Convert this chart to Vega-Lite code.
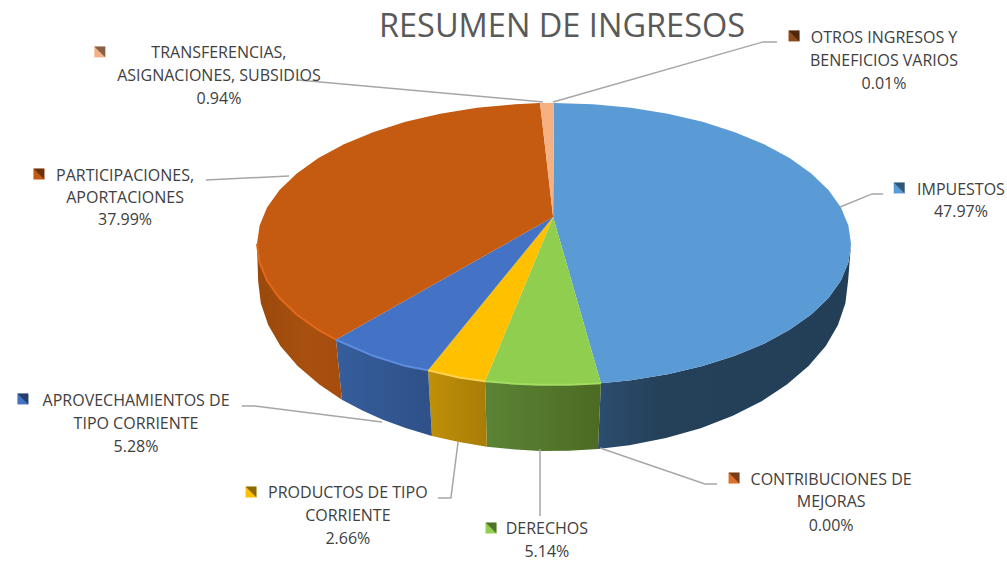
{"$schema":"https://vega.github.io/schema/vega-lite/v6.json","width":1007,"height":561,"padding":0,"autosize":{"type":"fit","contains":"padding"},"background":"white","view":{"stroke":null},
"datasets":{
"top":[
{"slice":"IMPUESTOS","i":0,"u":-0.3,"v":19.1},{"slice":"IMPUESTOS","i":1,"u":0,"v":100},{"slice":"IMPUESTOS","i":2,"u":13.1,"v":99.1},{"slice":"IMPUESTOS","i":3,"u":25.9,"v":96.6},{"slice":"IMPUESTOS","i":4,"u":38.3,"v":92.4},{"slice":"IMPUESTOS","i":5,"u":50,"v":86.6},{"slice":"IMPUESTOS","i":6,"u":60.9,"v":79.3},{"slice":"IMPUESTOS","i":7,"u":70.7,"v":70.7},{"slice":"IMPUESTOS","i":8,"u":79.3,"v":60.9},{"slice":"IMPUESTOS","i":9,"u":86.6,"v":50},{"slice":"IMPUESTOS","i":10,"u":92.4,"v":38.3},{"slice":"IMPUESTOS","i":11,"u":96.6,"v":25.9},{"slice":"IMPUESTOS","i":12,"u":99.1,"v":13.1},{"slice":"IMPUESTOS","i":13,"u":100,"v":0},{"slice":"IMPUESTOS","i":14,"u":99.1,"v":-13.1},{"slice":"IMPUESTOS","i":15,"u":96.6,"v":-25.9},{"slice":"IMPUESTOS","i":16,"u":92.4,"v":-38.3},{"slice":"IMPUESTOS","i":17,"u":86.6,"v":-50},{"slice":"IMPUESTOS","i":18,"u":79.3,"v":-60.9},{"slice":"IMPUESTOS","i":19,"u":70.7,"v":-70.7},{"slice":"IMPUESTOS","i":20,"u":60.9,"v":-79.3},{"slice":"IMPUESTOS","i":21,"u":50,"v":-86.6},{"slice":"IMPUESTOS","i":22,"u":38.3,"v":-92.4},{"slice":"IMPUESTOS","i":23,"u":25.9,"v":-96.6},{"slice":"IMPUESTOS","i":24,"u":15.8,"v":-98.7},
{"slice":"DERECHOS","i":0,"u":-0.3,"v":19.1},{"slice":"DERECHOS","i":1,"u":15.8,"v":-98.7},{"slice":"DERECHOS","i":2,"u":5,"v":-99.9},{"slice":"DERECHOS","i":3,"u":-5,"v":-99.9},{"slice":"DERECHOS","i":4,"u":-13.1,"v":-99.1},{"slice":"DERECHOS","i":5,"u":-23.2,"v":-97.3},
{"slice":"PRODUCTOS","i":0,"u":-0.3,"v":19.1},{"slice":"PRODUCTOS","i":1,"u":-23.2,"v":-97.3},{"slice":"PRODUCTOS","i":2,"u":-32,"v":-94.7},{"slice":"PRODUCTOS","i":3,"u":-42.4,"v":-89.5},
{"slice":"APROVECHAMIENTOS","i":0,"u":-0.3,"v":19.1},{"slice":"APROVECHAMIENTOS","i":1,"u":-42.4,"v":-89.5},{"slice":"APROVECHAMIENTOS","i":2,"u":-50,"v":-86.6},{"slice":"APROVECHAMIENTOS","i":3,"u":-60.9,"v":-79.3},{"slice":"APROVECHAMIENTOS","i":4,"u":-73.4,"v":-67.9},
{"slice":"PARTICIPACIONES","i":0,"u":-0.3,"v":19.1},{"slice":"PARTICIPACIONES","i":1,"u":-73.4,"v":-67.9},{"slice":"PARTICIPACIONES","i":2,"u":-79.3,"v":-60.9},{"slice":"PARTICIPACIONES","i":3,"u":-86.6,"v":-50},{"slice":"PARTICIPACIONES","i":4,"u":-92.4,"v":-38.3},{"slice":"PARTICIPACIONES","i":5,"u":-96.6,"v":-25.9},{"slice":"PARTICIPACIONES","i":6,"u":-99.1,"v":-13.1},{"slice":"PARTICIPACIONES","i":7,"u":-100,"v":0},{"slice":"PARTICIPACIONES","i":8,"u":-99.1,"v":13.1},{"slice":"PARTICIPACIONES","i":9,"u":-96.6,"v":25.9},{"slice":"PARTICIPACIONES","i":10,"u":-92.4,"v":38.3},{"slice":"PARTICIPACIONES","i":11,"u":-86.6,"v":50},{"slice":"PARTICIPACIONES","i":12,"u":-79.3,"v":60.9},{"slice":"PARTICIPACIONES","i":13,"u":-70.7,"v":70.7},{"slice":"PARTICIPACIONES","i":14,"u":-60.9,"v":79.3},{"slice":"PARTICIPACIONES","i":15,"u":-50,"v":86.6},{"slice":"PARTICIPACIONES","i":16,"u":-38.3,"v":92.4},{"slice":"PARTICIPACIONES","i":17,"u":-25.9,"v":96.6},{"slice":"PARTICIPACIONES","i":18,"u":-13.1,"v":99.1},{"slice":"PARTICIPACIONES","i":19,"u":-4.7,"v":99.9},
{"slice":"TRANSFERENCIAS","i":0,"u":-0.3,"v":19.1},{"slice":"TRANSFERENCIAS","i":1,"u":-4.7,"v":99.9},{"slice":"TRANSFERENCIAS","i":2,"u":0,"v":100}
],
"wall":[
{"slice":"IMPUESTOS","i":1,"u":100,"v":0},{"slice":"IMPUESTOS","i":2,"u":99.1,"v":-13.1},{"slice":"IMPUESTOS","i":3,"u":96.6,"v":-25.9},{"slice":"IMPUESTOS","i":4,"u":92.4,"v":-38.3},{"slice":"IMPUESTOS","i":5,"u":86.6,"v":-50},{"slice":"IMPUESTOS","i":6,"u":79.3,"v":-60.9},{"slice":"IMPUESTOS","i":7,"u":70.7,"v":-70.7},{"slice":"IMPUESTOS","i":8,"u":60.9,"v":-79.3},{"slice":"IMPUESTOS","i":9,"u":50,"v":-86.6},{"slice":"IMPUESTOS","i":10,"u":38.3,"v":-92.4},{"slice":"IMPUESTOS","i":11,"u":25.9,"v":-96.6},{"slice":"IMPUESTOS","i":12,"u":15.8,"v":-98.7},{"slice":"IMPUESTOS","i":13,"u":14.8,"v":-145.4},{"slice":"IMPUESTOS","i":14,"u":25.4,"v":-142.7},{"slice":"IMPUESTOS","i":15,"u":37.7,"v":-137.6},{"slice":"IMPUESTOS","i":16,"u":49.4,"v":-130.6},{"slice":"IMPUESTOS","i":17,"u":60.2,"v":-121.8},{"slice":"IMPUESTOS","i":18,"u":69.9,"v":-111.5},{"slice":"IMPUESTOS","i":19,"u":78.4,"v":-99.6},{"slice":"IMPUESTOS","i":20,"u":85.7,"v":-86.5},{"slice":"IMPUESTOS","i":21,"u":91.5,"v":-72.4},{"slice":"IMPUESTOS","i":22,"u":95.6,"v":-57.4},{"slice":"IMPUESTOS","i":23,"u":98.1,"v":-42},{"slice":"IMPUESTOS","i":24,"u":99,"v":-26.2},
{"slice":"DERECHOS","i":1,"u":15.8,"v":-98.7},{"slice":"DERECHOS","i":2,"u":5,"v":-99.9},{"slice":"DERECHOS","i":3,"u":-5,"v":-99.9},{"slice":"DERECHOS","i":4,"u":-13.1,"v":-99.1},{"slice":"DERECHOS","i":5,"u":-23.2,"v":-97.3},{"slice":"DERECHOS","i":6,"u":-22.6,"v":-143.7},{"slice":"DERECHOS","i":7,"u":-13,"v":-145.8},{"slice":"DERECHOS","i":8,"u":-4.7,"v":-146.8},{"slice":"DERECHOS","i":9,"u":5,"v":-146.6},{"slice":"DERECHOS","i":10,"u":14.8,"v":-145.4},
{"slice":"PRODUCTOS","i":1,"u":-23.2,"v":-97.3},{"slice":"PRODUCTOS","i":2,"u":-32,"v":-94.7},{"slice":"PRODUCTOS","i":3,"u":-42.4,"v":-89.5},{"slice":"PRODUCTOS","i":4,"u":-41.1,"v":-136.2},{"slice":"PRODUCTOS","i":5,"u":-32,"v":-140.5},{"slice":"PRODUCTOS","i":6,"u":-22.6,"v":-143.7},
{"slice":"APROVECHAMIENTOS","i":1,"u":-42.4,"v":-89.5},{"slice":"APROVECHAMIENTOS","i":2,"u":-50,"v":-86.6},{"slice":"APROVECHAMIENTOS","i":3,"u":-60.9,"v":-79.3},{"slice":"APROVECHAMIENTOS","i":4,"u":-73.4,"v":-67.9},{"slice":"APROVECHAMIENTOS","i":5,"u":-71.4,"v":-110.4},{"slice":"APROVECHAMIENTOS","i":6,"u":-64.5,"v":-118},{"slice":"APROVECHAMIENTOS","i":7,"u":-57.6,"v":-124.7},{"slice":"APROVECHAMIENTOS","i":8,"u":-49.7,"v":-130.6},{"slice":"APROVECHAMIENTOS","i":9,"u":-41.1,"v":-136.2},
{"slice":"PARTICIPACIONES","i":1,"u":-73.4,"v":-67.9},{"slice":"PARTICIPACIONES","i":2,"u":-79.3,"v":-60.9},{"slice":"PARTICIPACIONES","i":3,"u":-86.6,"v":-50},{"slice":"PARTICIPACIONES","i":4,"u":-92.4,"v":-38.3},{"slice":"PARTICIPACIONES","i":5,"u":-96.6,"v":-25.9},{"slice":"PARTICIPACIONES","i":6,"u":-99.1,"v":-13.1},{"slice":"PARTICIPACIONES","i":7,"u":-100,"v":0},{"slice":"PARTICIPACIONES","i":8,"u":-99.6,"v":-26.2},{"slice":"PARTICIPACIONES","i":9,"u":-98.7,"v":-42},{"slice":"PARTICIPACIONES","i":10,"u":-96.2,"v":-57.4},{"slice":"PARTICIPACIONES","i":11,"u":-92.1,"v":-72.4},{"slice":"PARTICIPACIONES","i":12,"u":-86.3,"v":-86.5},{"slice":"PARTICIPACIONES","i":13,"u":-79,"v":-99.6},{"slice":"PARTICIPACIONES","i":14,"u":-71.4,"v":-110.4}
],
"leaders":[
{"line":"TRANSFERENCIAS","i":1,"u":-86.2,"v":116.3},{"line":"TRANSFERENCIAS","i":2,"u":-3.7,"v":100.7},
{"line":"OTROS","i":1,"u":75.1,"v":143.3},{"line":"OTROS","i":2,"u":70.4,"v":143.3},{"line":"OTROS","i":3,"u":-0.3,"v":100.7},
{"line":"PARTICIPACIONES","i":1,"u":-117.2,"v":45.4},{"line":"PARTICIPACIONES","i":2,"u":-89.2,"v":48.2},
{"line":"IMPUESTOS","i":1,"u":110.8,"v":35.5},{"line":"IMPUESTOS","i":2,"u":107.1,"v":35.5},{"line":"IMPUESTOS","i":3,"u":96.3,"v":26.2},
{"line":"APROVECHAMIENTOS","i":1,"u":-105.1,"v":-114.9},{"line":"APROVECHAMIENTOS","i":2,"u":-100.7,"v":-114.9},{"line":"APROVECHAMIENTOS","i":3,"u":-57.9,"v":-126.2},
{"line":"PRODUCTOS","i":1,"u":-39.1,"v":-180.1},{"line":"PRODUCTOS","i":2,"u":-34.7,"v":-180.1},{"line":"PRODUCTOS","i":3,"u":-32.3,"v":-140.4},
{"line":"DERECHOS","i":1,"u":-4.7,"v":-145.4},{"line":"DERECHOS","i":2,"u":-4.7,"v":-192.9},
{"line":"CONTRIBUCIONES","i":1,"u":15.5,"v":-144.7},{"line":"CONTRIBUCIONES","i":2,"u":50.8,"v":-170.2},{"line":"CONTRIBUCIONES","i":3,"u":54.9,"v":-170.2}
],
"labels":[
{"text":"TRANSFERENCIAS,","u":-112.8,"v":136.2},{"text":"ASIGNACIONES, SUBSIDIOS","u":-112.8,"v":119.9},{"text":"0.94%","u":-112.8,"v":103.5},
{"text":"PARTICIPACIONES,","u":-144.4,"v":48.9},{"text":"APORTACIONES","u":-144.4,"v":33.3},{"text":"37.99%","u":-144.4,"v":17.7},
{"text":"OTROS INGRESOS Y","u":111.1,"v":146.8},{"text":"BENEFICIOS VARIOS","u":111.1,"v":130.5},{"text":"0.01%","u":111.1,"v":114.2},
{"text":"IMPUESTOS","u":137,"v":39},{"text":"47.97%","u":137,"v":23.4},
{"text":"APROVECHAMIENTOS DE","u":-140.7,"v":-110.6},{"text":"TIPO CORRIENTE","u":-140.7,"v":-127},{"text":"5.28%","u":-140.7,"v":-143.3},
{"text":"PRODUCTOS DE TIPO","u":-69.4,"v":-175.9},{"text":"CORRIENTE","u":-69.4,"v":-192.2},{"text":"2.66%","u":-69.4,"v":-208.5},
{"text":"DERECHOS","u":-2.4,"v":-201.4},{"text":"5.14%","u":-2.4,"v":-217.7},
{"text":"CONTRIBUCIONES DE","u":93.3,"v":-166.7},{"text":"MEJORAS","u":93.3,"v":-182.3},{"text":"0.00%","u":93.3,"v":-199.3}
],
"keys":[
{"slice":"TRANSFERENCIAS","pct":0.94,"u":-152.9,"v":136.2},{"slice":"PARTICIPACIONES","pct":37.99,"u":-173.4,"v":49.6},{"slice":"OTROS","pct":0.01,"u":80.8,"v":147.5},{"slice":"IMPUESTOS","pct":47.97,"u":116.2,"v":39.7},{"slice":"APROVECHAMIENTOS","pct":5.28,"u":-178.8,"v":-109.9},{"slice":"PRODUCTOS","pct":2.66,"u":-102,"v":-175.9},{"slice":"DERECHOS","pct":5.14,"u":-21.2,"v":-201.4},{"slice":"CONTRIBUCIONES","pct":0,"u":60.6,"v":-166}
]
},
"encoding":{
"x":{"field":"u","type":"quantitative","scale":{"domain":[-186.5,152.5],"nice":false,"zero":false},"axis":null},
"y":{"field":"v","type":"quantitative","scale":{"domain":[-224.8,173],"nice":false,"zero":false},"axis":null}
},
"layer":[
{"data":{"name":"wall"},"transform":[{"filter":"datum.slice==='IMPUESTOS'"}],"mark":{"type":"line","strokeWidth":0,"fill":{"gradient":"linear","x1":0,"x2":1,"y1":0,"y2":0,"stops":[{"offset":0,"color":"#2c4d70"},{"offset":0.25,"color":"#254059"},{"offset":1,"color":"#233f58"}]}},"encoding":{"order":{"field":"i","type":"quantitative"}}},
{"data":{"name":"wall"},"transform":[{"filter":"datum.slice==='DERECHOS'"}],"mark":{"type":"line","strokeWidth":0,"fill":{"gradient":"linear","x1":0,"x2":1,"y1":0,"y2":0,"stops":[{"offset":0,"color":"#5b8435"},{"offset":1,"color":"#4c6a22"}]}},"encoding":{"order":{"field":"i","type":"quantitative"}}},
{"data":{"name":"wall"},"transform":[{"filter":"datum.slice==='PRODUCTOS'"}],"mark":{"type":"line","strokeWidth":0,"fill":{"gradient":"linear","x1":0,"x2":1,"y1":0,"y2":0,"stops":[{"offset":0,"color":"#c09008"},{"offset":1,"color":"#a87d08"}]}},"encoding":{"order":{"field":"i","type":"quantitative"}}},
{"data":{"name":"wall"},"transform":[{"filter":"datum.slice==='APROVECHAMIENTOS'"}],"mark":{"type":"line","strokeWidth":0,"fill":{"gradient":"linear","x1":0,"x2":1,"y1":0,"y2":0,"stops":[{"offset":0,"color":"#365e9c"},{"offset":1,"color":"#2f5088"}]}},"encoding":{"order":{"field":"i","type":"quantitative"}}},
{"data":{"name":"wall"},"transform":[{"filter":"datum.slice==='PARTICIPACIONES'"}],"mark":{"type":"line","strokeWidth":0,"fill":{"gradient":"linear","x1":0,"x2":1,"y1":0,"y2":0,"stops":[{"offset":0,"color":"#9a480c"},{"offset":0.6,"color":"#a9500f"},{"offset":1,"color":"#a44d0d"}]}},"encoding":{"order":{"field":"i","type":"quantitative"}}},
{"data":{"name":"top"},"mark":{"type":"line","strokeWidth":0},"encoding":{"order":{"field":"i","type":"quantitative"},"detail":{"field":"slice"},"fill":{"field":"slice","type":"nominal","legend":null,"scale":{"domain":["IMPUESTOS","DERECHOS","PRODUCTOS","APROVECHAMIENTOS","PARTICIPACIONES","TRANSFERENCIAS","OTROS","CONTRIBUCIONES"],"range":["#5b9bd5","#90ce4f","#ffc000","#4472c4","#c55a11","#f4b183","#8f4a18","#d9702e"]}}}},
{"data":{"name":"top"},"transform":[{"filter":"datum.i>0 && datum.v<=0 && datum.slice!=='IMPUESTOS'"}],"mark":{"type":"line","strokeWidth":2},"encoding":{"order":{"field":"i","type":"quantitative"},"stroke":{"field":"slice","type":"nominal","legend":null,"scale":{"domain":["DERECHOS","PRODUCTOS","APROVECHAMIENTOS","PARTICIPACIONES"],"range":["#a4dc64","#ffd34d","#5c8de0","#e2681a"]}}}},
{"data":{"name":"leaders"},"mark":{"type":"line","stroke":"#a6a6a6","strokeWidth":1.5},"encoding":{"order":{"field":"i","type":"quantitative"},"detail":{"field":"line"}}},
{"data":{"name":"keys"},"mark":{"type":"point","shape":"square","filled":true,"size":120,"opacity":1},"encoding":{"fill":{"field":"slice","type":"nominal","legend":null}}},
{"data":{"name":"keys"},"mark":{"type":"point","shape":"M-1,-1L1,-1L1,1L0,0Z","filled":true,"size":120,"fill":"#000000","opacity":0.45}},
{"data":{"name":"labels"},"mark":{"type":"text","font":"Open Sans","fontSize":16,"color":"#404040","align":"center","baseline":"middle","dy":1},"encoding":{"text":{"field":"text","type":"nominal"}}},
{"data":{"values":[{"text":"RESUMEN DE INGRESOS","u":2.7,"v":155.3}]},"mark":{"type":"text","font":"Open Sans","fontSize":32.5,"color":"#595959","align":"center","baseline":"middle","dy":2},"encoding":{"text":{"field":"text","type":"nominal"}}}
]}
